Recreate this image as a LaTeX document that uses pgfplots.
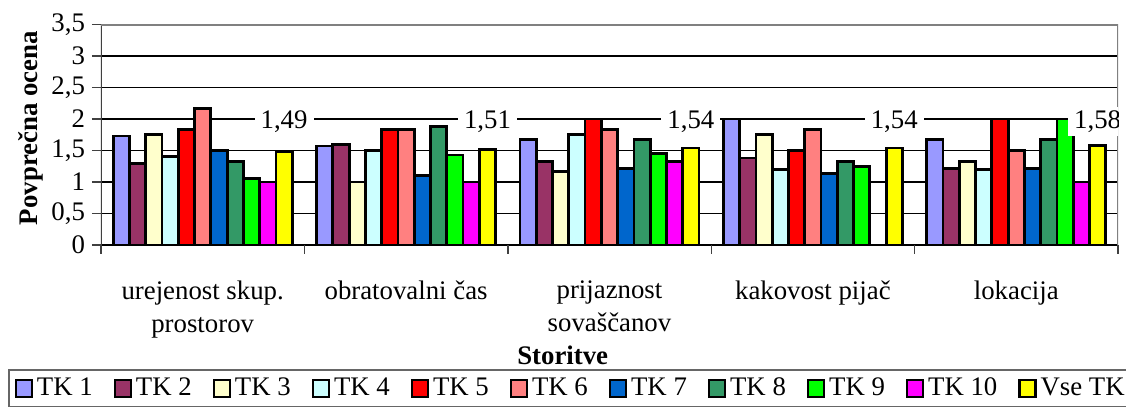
\documentclass[border=0pt]{standalone}
\usepackage{fontspec}
\setmainfont{Liberation Serif}
\usepackage{pgfplots}
\pgfplotsset{compat=1.18}
\definecolor{c1}{HTML}{9999FF}
\definecolor{c2}{HTML}{993366}
\definecolor{c3}{HTML}{FFFFCC}
\definecolor{c4}{HTML}{CCFFFF}
\definecolor{c5}{HTML}{FF0000}
\definecolor{c6}{HTML}{FF8080}
\definecolor{c7}{HTML}{0066CC}
\definecolor{c8}{HTML}{339966}
\definecolor{c9}{HTML}{00FF00}
\definecolor{c10}{HTML}{FF00FF}
\definecolor{c11}{HTML}{FFFF00}
\newcommand{\cf}{\fontsize{13.4}{16.5}\selectfont}
\begin{document}
\begin{tikzpicture}[font=\cf]
\begin{axis}[
  scale only axis, width=508.5pt, height=110.25pt,
  xmin=-0.5, xmax=4.5, ymin=0, ymax=3.5,
  enlargelimits=false,
  ybar=0pt, bar width=0.08,
  axis line style={draw=none},
  xtick pos=left, ytick pos=left,
  ytick={0,0.5,1,1.5,2,2.5,3,3.5},
  yticklabels={0,{0,5},1,{1,5},2,{2,5},3,{3,5}},
  ymajorgrids, grid style={black, line width=0.95pt},
  xtick={0,1,2,3,4},
  xticklabels={{urejenost skup.\\prostorov},{obratovalni čas},{prijaznost\\sovaščanov},{kakovost pijač},{lokacija}},
  minor xtick={-0.5,0.5,1.5,2.5,3.5,4.5},
  tick align=outside, major tick length=4.5pt, minor tick length=4.5pt,
  major x tick style={draw=none},
  minor x tick style={draw=black!75, line width=0.7pt},
  major y tick style={draw=black!75, line width=0.7pt},
  xticklabel style={align=center, anchor=north, yshift=-10pt, font=\cf},
  yticklabel style={font=\cf},
  every axis y label/.style={at={(axis description cs:-0.0690,0.53)}, rotate=90, anchor=center, font=\cf\bfseries},
  every axis x label/.style={at={(axis description cs:0.454,0)}, anchor=center, yshift=-55pt, font=\cf\bfseries},
  ylabel={Povprečna ocena},
  xlabel={Storitve},
  every axis plot/.append style={draw=black, line width=1.4pt},
  legend image code/.code={\draw[#1, line width=1.1pt] (0pt,-4.25pt) rectangle (8pt,4.25pt);},
  legend columns=11,
  legend style={at={(axis description cs:-0.0915,-0.5624)}, anchor=north west,
    draw=black!60, line width=0.8pt, font=\cf,
    /tikz/every even column/.append style={column sep=8.5pt}},
]
\addplot[fill=c1] coordinates {(0,1.73) (1,1.57) (2,1.67) (3,2.0) (4,1.67)};
\addplot[fill=c2] coordinates {(0,1.29) (1,1.6) (2,1.33) (3,1.38) (4,1.22)};
\addplot[fill=c3] coordinates {(0,1.75) (1,1.0) (2,1.17) (3,1.75) (4,1.33)};
\addplot[fill=c4] coordinates {(0,1.4) (1,1.5) (2,1.75) (3,1.2) (4,1.2)};
\addplot[fill=c5] coordinates {(0,1.83) (1,1.83) (2,2.0) (3,1.5) (4,2.0)};
\addplot[fill=c6] coordinates {(0,2.17) (1,1.83) (2,1.83) (3,1.83) (4,1.5)};
\addplot[fill=c7] coordinates {(0,1.5) (1,1.1) (2,1.22) (3,1.13) (4,1.22)};
\addplot[fill=c8] coordinates {(0,1.33) (1,1.88) (2,1.67) (3,1.33) (4,1.67)};
\addplot[fill=c9] coordinates {(0,1.05) (1,1.43) (2,1.45) (3,1.25) (4,2.0)};
\addplot[fill=c10] coordinates {(0,1.0) (1,1.0) (2,1.33) (4,1.0)};
\addplot[fill=c11] coordinates {(0,1.49) (1,1.51) (2,1.54) (3,1.54) (4,1.58)};
\legend{TK 1,TK 2,TK 3,TK 4,TK 5,TK 6,TK 7,TK 8,TK 9,TK 10,Vse TK}
\draw[black, line width=0.8pt] (rel axis cs:0,0) -- (rel axis cs:1,0);
\draw[black!75, line width=0.7pt] (rel axis cs:0,0) -- (rel axis cs:0,1);
\draw[black!50, line width=1.1pt] (rel axis cs:0,1) -- (rel axis cs:1,1) -- (rel axis cs:1,0);
\node[fill=white, inner xsep=3pt, inner ysep=2pt] at (axis cs:0.4,1.96) {1,49};
\node[fill=white, inner xsep=3pt, inner ysep=2pt] at (axis cs:1.4,1.96) {1,51};
\node[fill=white, inner xsep=3pt, inner ysep=2pt] at (axis cs:2.4,1.96) {1,54};
\node[fill=white, inner xsep=3pt, inner ysep=2pt] at (axis cs:3.4,1.96) {1,54};
\node[fill=white, inner xsep=3pt, inner ysep=2pt] at (axis cs:4.4,1.96) {1,58};
\coordinate (O) at (rel axis cs:0,0);
\end{axis}
\pgfresetboundingbox
\useasboundingbox ([shift={(-50.5pt,-83.5pt)}]O) rectangle ([shift={(512.5pt,122.5pt)}]O);
\end{tikzpicture}
\end{document}
